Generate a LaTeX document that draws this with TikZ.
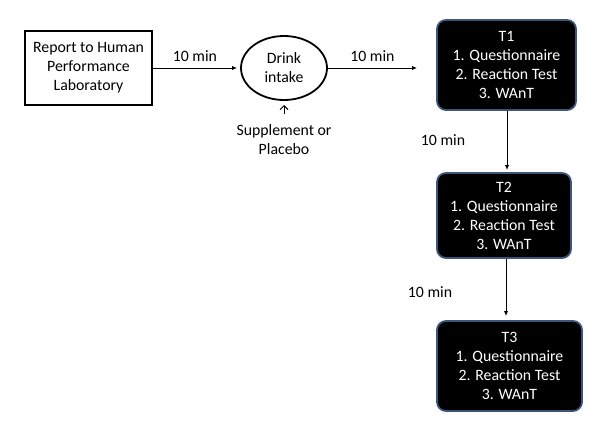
\documentclass[tikz,border=0pt]{standalone}
\usepackage{fontspec}
\setmainfont{Carlito}
\usetikzlibrary{arrows.meta,shapes.geometric}
\begin{document}
\begin{tikzpicture}[x=1pt,y=-1pt,
  every node/.style={font=\fontsize{15.8}{19}\selectfont, align=center, inner sep=0pt},
  plainbox/.style={draw=black, line width=1.8pt, minimum width=127pt, minimum height=74pt},
  drink/.style={draw=black, ellipse, line width=1.8pt, minimum width=86pt, minimum height=64pt},
  tbox/.style={draw={rgb,255:red,60;green,85;blue,120}, fill=black, text=white, rounded corners=9pt, line width=1.8pt},
  arr/.style={-{Latex[length=5pt,width=4.5pt]}, line width=1pt},
  lbl/.style={font=\fontsize{15.8}{19}\selectfont}
]
\useasboundingbox (0,0) rectangle (600,431);
\node[plainbox] (rep) at (88.5,68) {Report to Human\\Performance\\Laboratory};
\node[drink] (drk) at (284,68) {Drink\\intake};
\node[tbox, minimum width=139pt, minimum height=90pt] (t1) at (506.5,65) {T1\\1. Questionnaire\\2. Reaction Test\\3. WAnT};
\node[tbox, minimum width=134pt, minimum height=85pt] (t2) at (504,215.5) {T2\\1. Questionnaire\\2. Reaction Test\\3. WAnT};
\node[tbox, minimum width=145pt, minimum height=90pt] (t3) at (509.5,366) {T3\\1. Questionnaire\\2. Reaction Test\\3. WAnT};
\node (sup) at (284,140) {Supplement or\\Placebo};
\coordinate (a2end) at (417,68);
\coordinate (t2in) at (507,170);
\coordinate (t3in) at (506,316);
\coordinate (supstart) at (284,114);
\draw[arr] (rep.east) -- node[above=6pt, lbl] {10 min} (237,68);
\draw[arr] (drk.east) -- node[above=6pt, lbl] {10 min} (a2end);
\draw[arr] (t1.south -| t2in) -- (t2in);
\node[lbl] (m2) at (443,140) {10 min};
\draw[arr] (t2.south -| t3in) -- (t3in);
\node[lbl] (m3) at (430,292) {10 min};
\draw[-{Straight Barb[length=4pt]}, line width=1pt] (supstart) -- (284,105);
\end{tikzpicture}
\end{document}
